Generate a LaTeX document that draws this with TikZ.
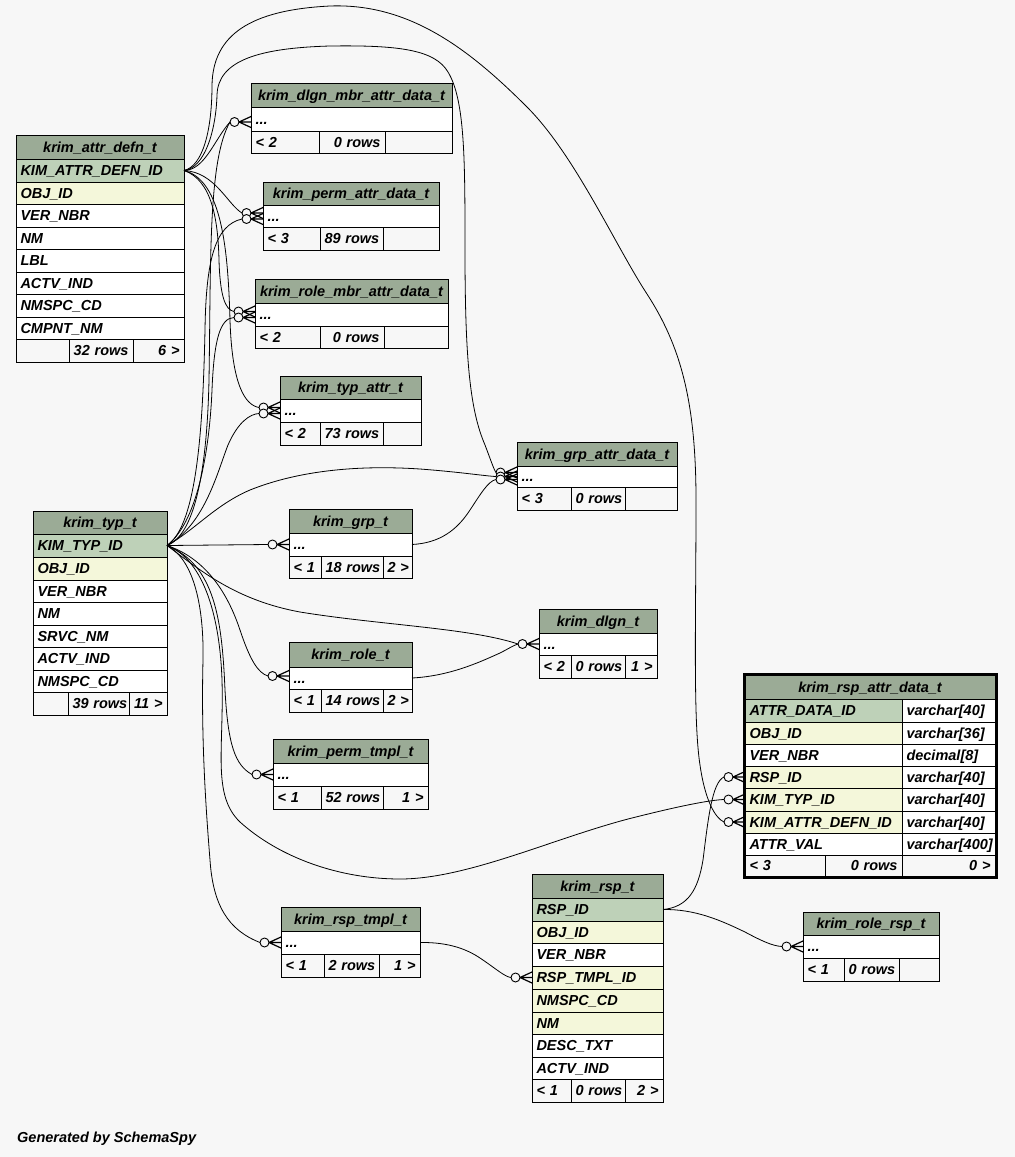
\documentclass[tikz,border=0pt]{standalone}
\usepackage{fontspec}
\setmainfont{Liberation Sans}
\usetikzlibrary{calc}
\definecolor{bg}{HTML}{F7F7F7}
\definecolor{hdr}{HTML}{9BAB96}
\definecolor{pkc}{HTML}{BED1B8}
\definecolor{idx}{HTML}{F4F7DA}
\tikzset{
  tfont/.style={font=\fontsize{14.5}{16}\selectfont\bfseries\itshape},
  cellbox/.style={draw=black, line width=1pt, inner xsep=4.5pt, inner ysep=0pt,
    text height=11pt, text depth=0.6pt, outer sep=0pt, tfont},
  conn/.style={draw=black, line width=0.8pt},
  crowmark/.style={draw=black, line width=1.2pt},
  crowcirc/.style={draw=black, fill=bg, line width=0.9pt},
}
% name, x1, y1, x2, y2, fill, align, text
\newcommand\cell[8]{%
  \pgfmathsetmacro\cw{#4-#2-9}%
  \pgfmathsetmacro\ch{#5-#3}%
  \pgfmathsetmacro\cx{(#2+#4)/2}%
  \pgfmathsetmacro\cy{(#3+#5)/2}%
  \node[cellbox, fill=#6, align=#7, text width=\cw pt, minimum height=\ch pt] (#1) at (\cx,\cy) {\mbox{#8}};%
}
% row node, dy, coordinate name
\newcommand\crow[3]{%
  \coordinate (#3) at ($(#1.west)+(-21,#2)$);
  \draw[crowcirc] ($(#1.west)+(-16.5,#2)$) circle[radius=4.5pt];
  \draw[crowmark] ($(#1.west)+(-12,#2)$) -- ($(#1.west)+(0,{#2-5.5})$)
                  ($(#1.west)+(-12,#2)$) -- ($(#1.west)+(0,#2)$)
                  ($(#1.west)+(-12,#2)$) -- ($(#1.west)+(0,{#2+5.5})$);
}
\begin{document}
\begin{tikzpicture}[x=1pt,y=-1pt]
\fill[bg] (0,0) rectangle (1015,1157);
\useasboundingbox (0,0) rectangle (1015,1157);

% ---------- krim_attr_defn_t
\cell{ad-h}{16}{135}{184}{159}{hdr}{center}{krim\_attr\_defn\_t}
\cell{ad-pk}{16}{159}{184}{182}{pkc}{left}{KIM\_ATTR\_DEFN\_ID}
\cell{ad-r2}{16}{182}{184}{204}{idx}{left}{OBJ\_ID}
\cell{ad-r3}{16}{204}{184}{227}{white}{left}{VER\_NBR}
\cell{ad-r4}{16}{227}{184}{249}{white}{left}{NM}
\cell{ad-r5}{16}{249}{184}{272}{white}{left}{LBL}
\cell{ad-r6}{16}{272}{184}{294}{white}{left}{ACTV\_IND}
\cell{ad-r7}{16}{294}{184}{317}{white}{left}{NMSPC\_CD}
\cell{ad-r8}{16}{317}{184}{339}{white}{left}{CMPNT\_NM}
\cell{ad-f1}{16}{339}{69}{362}{bg}{left}{}
\cell{ad-f2}{69}{339}{133}{362}{bg}{right}{32 rows}
\cell{ad-f3}{133}{339}{184}{362}{bg}{right}{6 >}

% ---------- krim_typ_t
\cell{ty-h}{33}{511}{167}{534}{hdr}{center}{krim\_typ\_t}
\cell{ty-pk}{33}{534}{167}{557}{pkc}{left}{KIM\_TYP\_ID}
\cell{ty-r2}{33}{557}{167}{580}{idx}{left}{OBJ\_ID}
\cell{ty-r3}{33}{580}{167}{602}{white}{left}{VER\_NBR}
\cell{ty-r4}{33}{602}{167}{625}{white}{left}{NM}
\cell{ty-r5}{33}{625}{167}{647}{white}{left}{SRVC\_NM}
\cell{ty-r6}{33}{647}{167}{670}{white}{left}{ACTV\_IND}
\cell{ty-r7}{33}{670}{167}{692}{white}{left}{NMSPC\_CD}
\cell{ty-f1}{33}{692}{68}{715}{bg}{left}{}
\cell{ty-f2}{68}{692}{129}{715}{bg}{right}{39 rows}
\cell{ty-f3}{129}{692}{167}{715}{bg}{right}{11 >}

% ---------- krim_dlgn_mbr_attr_data_t
\cell{dma-h}{251}{83}{452}{107}{hdr}{center}{krim\_dlgn\_mbr\_attr\_data\_t}
\cell{dma-r}{251}{107}{452}{131}{white}{left}{...}
\cell{dma-f1}{251}{131}{319}{153}{bg}{left}{< 2}
\cell{dma-f2}{319}{131}{385}{153}{bg}{right}{0 rows}
\cell{dma-f3}{385}{131}{452}{153}{bg}{right}{}

% ---------- krim_perm_attr_data_t
\cell{pa-h}{263}{182}{439}{205}{hdr}{center}{krim\_perm\_attr\_data\_t}
\cell{pa-r}{263}{205}{439}{227}{white}{left}{...}
\cell{pa-f1}{263}{227}{320}{250}{bg}{left}{< 3}
\cell{pa-f2}{320}{227}{383}{250}{bg}{right}{89 rows}
\cell{pa-f3}{383}{227}{439}{250}{bg}{right}{}

% ---------- krim_role_mbr_attr_data_t
\cell{rma-h}{255}{279}{448}{303}{hdr}{center}{krim\_role\_mbr\_attr\_data\_t}
\cell{rma-r}{255}{303}{448}{326}{white}{left}{...}
\cell{rma-f1}{255}{326}{320}{348}{bg}{left}{< 2}
\cell{rma-f2}{320}{326}{384}{348}{bg}{right}{0 rows}
\cell{rma-f3}{384}{326}{448}{348}{bg}{right}{}

% ---------- krim_typ_attr_t
\cell{ta-h}{280}{376}{421}{399}{hdr}{center}{krim\_typ\_attr\_t}
\cell{ta-r}{280}{399}{421}{422}{white}{left}{...}
\cell{ta-f1}{280}{422}{320}{445}{bg}{left}{< 2}
\cell{ta-f2}{320}{422}{383}{445}{bg}{right}{73 rows}
\cell{ta-f3}{383}{422}{421}{445}{bg}{right}{}

% ---------- krim_grp_attr_data_t
\cell{gad-h}{517}{442}{677}{466}{hdr}{center}{krim\_grp\_attr\_data\_t}
\cell{gad-r}{517}{466}{677}{487}{white}{left}{...}
\cell{gad-f1}{517}{487}{571}{510}{bg}{left}{< 3}
\cell{gad-f2}{571}{487}{625}{510}{bg}{right}{0 rows}
\cell{gad-f3}{625}{487}{677}{510}{bg}{right}{}

% ---------- krim_grp_t
\cell{grp-h}{289}{509}{412}{533}{hdr}{center}{krim\_grp\_t}
\cell{grp-r}{289}{533}{412}{556}{white}{left}{...}
\cell{grp-f1}{289}{556}{321}{578}{bg}{left}{< 1}
\cell{grp-f2}{321}{556}{383}{578}{bg}{right}{18 rows}
\cell{grp-f3}{383}{556}{412}{578}{bg}{right}{2 >}

% ---------- krim_dlgn_t
\cell{dlg-h}{539}{609}{657}{633}{hdr}{center}{krim\_dlgn\_t}
\cell{dlg-r}{539}{633}{657}{655}{white}{left}{...}
\cell{dlg-f1}{539}{655}{571}{678}{bg}{left}{< 2}
\cell{dlg-f2}{571}{655}{625}{678}{bg}{right}{0 rows}
\cell{dlg-f3}{625}{655}{657}{678}{bg}{right}{1 >}

% ---------- krim_role_t
\cell{rol-h}{289}{642}{412}{667}{hdr}{center}{krim\_role\_t}
\cell{rol-r}{289}{667}{412}{689}{white}{left}{...}
\cell{rol-f1}{289}{689}{321}{712}{bg}{left}{< 1}
\cell{rol-f2}{321}{689}{383}{712}{bg}{right}{14 rows}
\cell{rol-f3}{383}{689}{412}{712}{bg}{right}{2 >}

% ---------- krim_perm_tmpl_t
\cell{ptm-h}{273}{739}{428}{763}{hdr}{center}{krim\_perm\_tmpl\_t}
\cell{ptm-r}{273}{763}{428}{786}{white}{left}{...}
\cell{ptm-f1}{273}{786}{321}{809}{bg}{left}{< 1}
\cell{ptm-f2}{321}{786}{383}{809}{bg}{right}{52 rows}
\cell{ptm-f3}{383}{786}{428}{809}{bg}{right}{1 >}

% ---------- krim_rsp_tmpl_t
\cell{rtm-h}{281}{907}{420}{931}{hdr}{center}{krim\_rsp\_tmpl\_t}
\cell{rtm-r}{281}{931}{420}{954}{white}{left}{...}
\cell{rtm-f1}{281}{954}{324}{977}{bg}{left}{< 1}
\cell{rtm-f2}{324}{954}{379}{977}{bg}{right}{2 rows}
\cell{rtm-f3}{379}{954}{420}{977}{bg}{right}{1 >}

% ---------- krim_rsp_t
\cell{rs-h}{532}{874}{663}{898}{hdr}{center}{krim\_rsp\_t}
\cell{rs-pk}{532}{898}{663}{921}{pkc}{left}{RSP\_ID}
\cell{rs-r2}{532}{921}{663}{943}{idx}{left}{OBJ\_ID}
\cell{rs-r3}{532}{943}{663}{966}{white}{left}{VER\_NBR}
\cell{rs-r4}{532}{966}{663}{989}{idx}{left}{RSP\_TMPL\_ID}
\cell{rs-r5}{532}{989}{663}{1012}{idx}{left}{NMSPC\_CD}
\cell{rs-r6}{532}{1012}{663}{1034}{idx}{left}{NM}
\cell{rs-r7}{532}{1034}{663}{1057}{white}{left}{DESC\_TXT}
\cell{rs-r8}{532}{1057}{663}{1079}{white}{left}{ACTV\_IND}
\cell{rs-f1}{532}{1079}{571}{1102}{bg}{left}{< 1}
\cell{rs-f2}{571}{1079}{625}{1102}{bg}{right}{0 rows}
\cell{rs-f3}{625}{1079}{663}{1102}{bg}{right}{2 >}

% ---------- krim_role_rsp_t
\cell{rrs-h}{803}{912}{939}{935}{hdr}{center}{krim\_role\_rsp\_t}
\cell{rrs-r}{803}{935}{939}{958}{white}{left}{...}
\cell{rrs-f1}{803}{958}{844}{981}{bg}{left}{< 1}
\cell{rrs-f2}{844}{958}{899}{981}{bg}{right}{0 rows}
\cell{rrs-f3}{899}{958}{939}{981}{bg}{right}{}

% ---------- krim_rsp_attr_data_t
\cell{rad-h}{745}{675}{995}{699}{hdr}{center}{krim\_rsp\_attr\_data\_t}
\cell{rad-r1}{745}{699}{902}{722}{pkc}{left}{ATTR\_DATA\_ID}
\cell{rad-t1}{902}{699}{995}{722}{white}{left}{varchar[40]}
\cell{rad-r2}{745}{722}{902}{744}{idx}{left}{OBJ\_ID}
\cell{rad-t2}{902}{722}{995}{744}{white}{left}{varchar[36]}
\cell{rad-r3}{745}{744}{902}{766}{white}{left}{VER\_NBR}
\cell{rad-t3}{902}{744}{995}{766}{white}{left}{decimal[8]}
\cell{rad-r4}{745}{766}{902}{788}{idx}{left}{RSP\_ID}
\cell{rad-t4}{902}{766}{995}{788}{white}{left}{varchar[40]}
\cell{rad-r5}{745}{788}{902}{811}{idx}{left}{KIM\_TYP\_ID}
\cell{rad-t5}{902}{788}{995}{811}{white}{left}{varchar[40]}
\cell{rad-r6}{745}{811}{902}{833}{idx}{left}{KIM\_ATTR\_DEFN\_ID}
\cell{rad-t6}{902}{811}{995}{833}{white}{left}{varchar[40]}
\cell{rad-r7}{745}{833}{902}{855}{white}{left}{ATTR\_VAL}
\cell{rad-t7}{902}{833}{995}{855}{white}{left}{varchar[400]}
\cell{rad-f1}{745}{855}{825}{876}{bg}{left}{< 3}
\cell{rad-f2}{825}{855}{902}{876}{bg}{right}{0 rows}
\cell{rad-f3}{902}{855}{995}{876}{bg}{right}{0 >}
\draw[line width=3pt] (744,674) rectangle (996,877);

% ---------- crow's feet (child ends)
\crow{dma-r}{3}{e-dma}
\crow{pa-r}{-3}{e-pa1}
\crow{pa-r}{3}{e-pa2}
\crow{rma-r}{-3}{e-rma1}
\crow{rma-r}{3}{e-rma2}
\crow{ta-r}{-3}{e-ta1}
\crow{ta-r}{3}{e-ta2}
\crow{gad-r}{-4}{e-gad1}
\crow{gad-r}{0}{e-gad2}
\crow{gad-r}{3}{e-gad3}
\crow{grp-r}{0}{e-grp}
\crow{dlg-r}{0}{e-dlg}
\crow{rol-r}{-2}{e-rol}
\crow{ptm-r}{0}{e-ptm}
\crow{rtm-r}{0}{e-rtm}
\crow{rs-r4}{0}{e-rspt}
\crow{rad-r4}{0}{e-radr}
\crow{rad-r5}{0}{e-radt}
\crow{rad-r6}{0}{e-rada}
\crow{rrs-r}{0}{e-rrs}

% ---------- connectors
% from krim_attr_defn_t
\draw[conn] (ad-pk.east) .. controls (205,170) and (214,140) .. (e-dma);
\draw[conn] (ad-pk.east) .. controls (215,172) and (228,205) .. (e-pa1);
\draw[conn] (ad-pk.east) .. controls (212,180) and (218,220) .. (219,260) .. controls (220,295) and (225,310) .. (e-rma1);
\draw[conn] (ad-pk.east) .. controls (222,180) and (228,250) .. (230,320) .. controls (232,385) and (245,405) .. (e-ta1);
\draw[conn] (ad-pk.east) .. controls (205,168) and (216,130) .. (217,95) .. controls (218,60) and (260,48) .. (330,46) .. controls (400,45) and (435,50) .. (448,72) .. controls (465,100) and (465,160) .. (465,250) .. controls (465,360) and (470,410) .. (485,445) .. controls (490,458) and (494,470) .. (e-gad1);
\draw[conn] (ad-pk.east) .. controls (203,166) and (212,130) .. (212,85) .. controls (213,35) and (250,10) .. (330,6) .. controls (410,3) and (470,50) .. (527,107) .. controls (575,155) and (615,245) .. (647,294) .. controls (680,345) and (696,400) .. (696,500) .. controls (696,620) and (693,720) .. (700,765) .. controls (705,800) and (715,818) .. (e-rada);
% from krim_typ_t
\draw[conn] (ty-pk.east) .. controls (195,535) and (207,470) .. (209,380) .. controls (211,260) and (208,160) .. (e-dma);
\draw[conn] (ty-pk.east) .. controls (198,525) and (203,420) .. (205,330) .. controls (206,260) and (215,225) .. (e-pa2);
\draw[conn] (ty-pk.east) .. controls (200,520) and (210,440) .. (212,390) .. controls (214,340) and (220,318) .. (e-rma2);
\draw[conn] (ty-pk.east) .. controls (205,525) and (218,470) .. (228,445) .. controls (238,422) and (250,414) .. (e-ta2);
\draw[conn] (ty-pk.east) .. controls (195,530) and (215,505) .. (250,490) .. controls (300,470) and (360,465) .. (420,469) .. controls (460,472) and (485,476) .. (e-gad2);
\draw[conn] (ty-pk.east) -- (e-grp);
\draw[conn] (ty-pk.east) .. controls (200,570) and (235,600) .. (300,612) .. controls (380,625) and (470,628) .. (e-dlg);
\draw[conn] (ty-pk.east) .. controls (210,560) and (230,600) .. (240,630) .. controls (250,660) and (258,673) .. (e-rol);
\draw[conn] (ty-pk.east) .. controls (215,565) and (222,620) .. (225,690) .. controls (228,745) and (235,765) .. (e-ptm);
\draw[conn] (ty-pk.east) .. controls (195,560) and (204,610) .. (203,660) .. controls (201,740) and (206,810) .. (210,860) .. controls (213,905) and (228,930) .. (e-rtm);
\draw[conn] (ty-pk.east) .. controls (205,560) and (220,620) .. (222,680) .. controls (224,750) and (212,795) .. (240,822) .. controls (280,858) and (340,879) .. (400,879) .. controls (470,879) and (560,835) .. (640,816) .. controls (680,806) and (710,800) .. (e-radt);
% from krim_grp_t, krim_role_t, krim_rsp_tmpl_t
\draw[conn] (grp-r.east) .. controls (440,543) and (457,530) .. (470,510) .. controls (480,495) and (488,481) .. (e-gad3);
\draw[conn] (rol-r.east) .. controls (450,676) and (480,662) .. (500,653) .. controls (508,649) and (514,645) .. (e-dlg);
\draw[conn] (rtm-r.east) .. controls (450,942) and (468,950) .. (480,958) .. controls (495,968) and (505,977) .. (e-rspt);
% from krim_rsp_t
\draw[conn] (rs-pk.east) .. controls (688,907) and (698,890) .. (703,860) .. controls (708,820) and (712,782) .. (e-radr);
\draw[conn] (rs-pk.east) .. controls (695,909) and (720,920) .. (745,932) .. controls (760,940) and (772,946) .. (e-rrs);

\node[tfont, anchor=base west, inner sep=0pt] (gen) at (17,1142) {Generated by SchemaSpy};
\end{tikzpicture}
\end{document}
